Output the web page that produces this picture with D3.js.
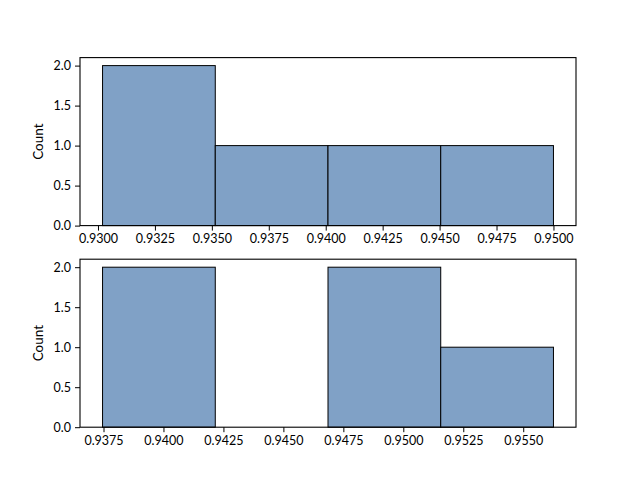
<!DOCTYPE html>
<html>
<head>
<meta charset="utf-8">
<script src="https://cdn.jsdelivr.net/npm/d3@7"></script>
<style>
  body { margin: 0; background: #fff; }
  text { font-family: Lato, "Open Sans", sans-serif; fill: #000; }
</style>
</head>
<body>
<div id="chart"></div>
<script>
// bin edges and counts
var topEdges = [0.9302, 0.93515, 0.9401, 0.94505, 0.9500];
var topCounts = [2, 1, 1, 1];
var topTicks = [0.9300, 0.9325, 0.9350, 0.9375, 0.9400, 0.9425, 0.9450, 0.9475, 0.9500];

var botEdges = [0.93746, 0.94216, 0.94686, 0.95156, 0.95626];
var botCounts = [2, 0, 2, 1];
var botTicks = [0.9375, 0.9400, 0.9425, 0.9450, 0.9475, 0.9500, 0.9525, 0.9550];

var yTicks = [0, 0.5, 1.0, 1.5, 2.0];

var W = 640, H = 480;
var left = 80, right = 576;

var svg = d3.select("#chart")
    .append("svg")
    .attr("width", W)
    .attr("height", H);

function drawHist(edges, counts, ticks, top, bottom) {
    var span = edges[edges.length - 1] - edges[0];
    var x = d3.scaleLinear()
        .domain([edges[0] - 0.05 * span, edges[edges.length - 1] + 0.05 * span])
        .range([left, right]);
    var y = d3.scaleLinear()
        .domain([0, d3.max(counts) * 1.05])
        .range([bottom, top]);

    var bins = counts.map(function(c, i) { return {x0: edges[i], x1: edges[i + 1], n: c}; });

    var g = svg.append("g");

    g.selectAll("rect.bar")
        .data(bins.filter(function(d) { return d.n > 0; }))
        .enter()
        .append("rect")
        .attr("class", "bar")
        .attr("x", function(d) { return x(d.x0); })
        .attr("y", function(d) { return y(d.n); })
        .attr("width", function(d) { return x(d.x1) - x(d.x0); })
        .attr("height", function(d) { return y(0) - y(d.n); })
        .attr("fill", "#80a1c6")
        .attr("stroke", "#000")
        .attr("stroke-width", 1);

    // axes
    var xa = g.append("g")
        .attr("transform", "translate(0," + bottom + ")")
        .call(d3.axisBottom(x).tickValues(ticks).tickFormat(d3.format(".4f")).tickSizeOuter(0).tickSize(5).tickPadding(4));
    var ya = g.append("g")
        .attr("transform", "translate(" + left + ",0)")
        .call(d3.axisLeft(y).tickValues(yTicks).tickFormat(d3.format(".1f")).tickSizeOuter(0).tickSize(5).tickPadding(4));
    [xa, ya].forEach(function(a) {
        a.select(".domain").remove();
        a.selectAll("text").attr("font-size", 12.5).attr("font-family", "Lato, sans-serif");
        a.selectAll("line").attr("stroke", "#000").attr("stroke-width", 1);
    });

    // frame
    g.append("rect")
        .attr("x", left)
        .attr("y", top)
        .attr("width", right - left)
        .attr("height", bottom - top)
        .attr("fill", "none")
        .attr("stroke", "#000")
        .attr("stroke-width", 1.1);

    g.append("text")
        .attr("transform", "translate(" + 43 + "," + ((top + bottom) / 2) + ") rotate(-90)")
        .attr("text-anchor", "middle")
        .attr("font-size", 13.5)
        .text("Count");
}

drawHist(topEdges, topCounts, topTicks, 57.6, 225.6);
drawHist(botEdges, botCounts, botTicks, 259.2, 427.2);
</script>
</body>
</html>
